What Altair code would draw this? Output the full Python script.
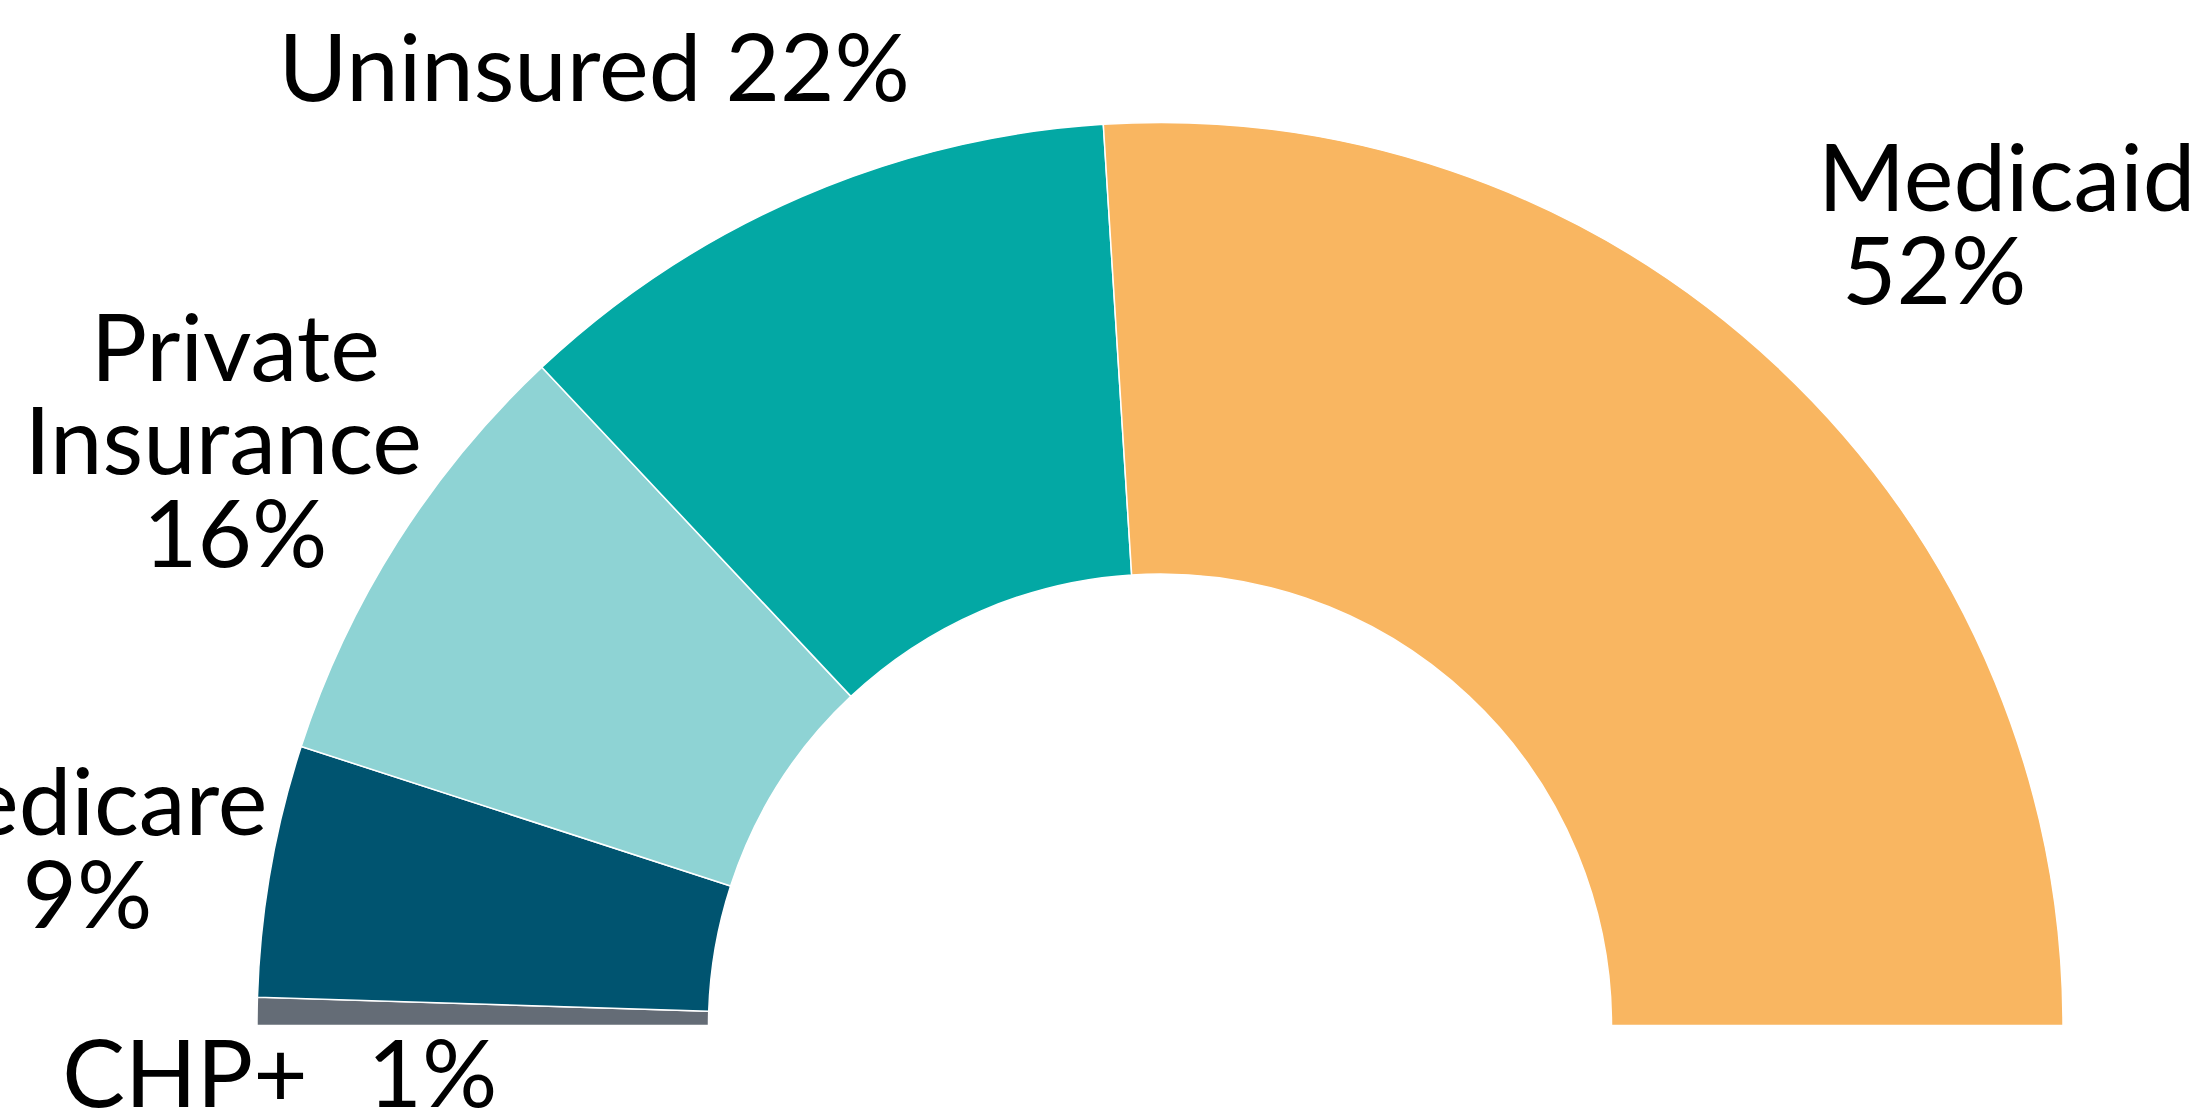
import math
import altair as alt
import pandas as pd

# ---- data ----
NB = "\u00a0"
ZW = "\u200b"
categories = ["CHP+", "Medicare", "Private Insurance", "Uninsured", "Medicaid"]
values = [1, 9, 16, 22, 52]
label_texts = [
    "CHP+" + NB * 2 + "\u2009" + "1%",
    "Medicare\n" + ZW + NB + "9%",
    ZW + NB + "Private\nInsurance\n" + ZW + NB + "16%",
    "Uninsured 22%",
    "Medicaid\n" + ZW + NB + "52%",
]
colors = ["#646c76", "#005470", "#8ed3d4", "#03a8a4", "#f9b661"]

df = pd.DataFrame({
    "category": categories,
    "value": values,
    "label": label_texts,
    "order": list(range(len(categories))),
})

CX, CY = 1160, 1025.5
R_OUT, R_IN = 903, 451.5
R_LABEL = 1100

theta_scale = alt.Scale(domain=[0, 100], range=[-math.pi / 2, math.pi / 2])
color_scale = alt.Scale(domain=categories, range=colors)

arcs = alt.Chart(df).mark_arc(
    radius=R_OUT, radius2=R_IN, stroke="white", strokeWidth=1.5
).encode(
    theta=alt.Theta("value:Q", stack=True, scale=theta_scale),
    order=alt.Order("order:Q", sort="ascending"),
    color=alt.Color("category:N", scale=color_scale, legend=None),
    x=alt.value(CX),
    y=alt.value(CY),
)

base_text = alt.Chart(df).transform_window(
    cum="sum(value)", sort=[alt.SortField("order", order="ascending")]
).transform_calculate(
    mid="datum.cum - datum.value / 2"
)

label_style = {
    "CHP+": dict(align="left", dx=2, dy=71, fontSize=94),
    "Medicare": dict(align="center", dx=-1, dy=-29, fontSize=94),
    "Private Insurance": dict(align="center", dx=-8, dy=-83, fontSize=94),
    "Uninsured": dict(align="center", dx=-129, dy=57, fontSize=94),
    "Medicaid": dict(align="left", dx=-95, dy=-41, fontSize=94),
}

layers = [arcs]
for cat in categories:
    st = label_style[cat]
    layers.append(
        base_text.transform_filter(alt.datum.category == cat).mark_text(
            radius=R_LABEL,
            baseline="middle",
            align=st["align"],
            dx=st["dx"],
            dy=st["dy"],
            font="Lato",
            fontSize=st["fontSize"],
            lineHeight=93,
            lineBreak="\n",
            color="black",
        ).encode(
            theta=alt.Theta("mid:Q", stack=False, scale=theta_scale),
            text=alt.Text("label:N"),
            x=alt.value(CX),
            y=alt.value(CY),
        )
    )

chart = alt.layer(*layers).properties(
    width=2209, height=1120, padding=0, autosize=alt.AutoSizeParams(type="none"),
    background="white",
).configure_view(stroke=None)

chart.save("out.html", embed_options={"renderer": "svg", "actions": False})
